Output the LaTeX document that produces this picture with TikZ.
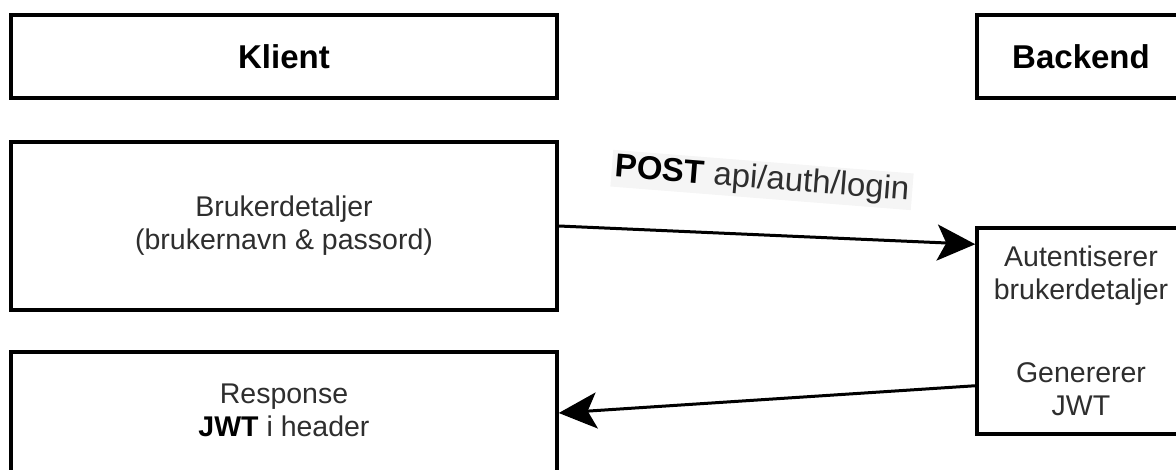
\documentclass[tikz,border=0pt]{standalone}
\usepackage{fontspec}
\setmainfont{Liberation Sans}
\usetikzlibrary{arrows.meta,calc}
\begin{document}
\begin{tikzpicture}[x=1pt,y=-1pt,
  box/.style={draw=black, line width=3.5pt, fill=white, inner sep=0pt, align=center},
  title/.style={font=\fontsize{33}{38}\selectfont\bfseries, text=black},
  body/.style={font=\fontsize{28.5}{33}\selectfont, text=black!82, align=center},
  conn/.style={line width=3pt, -{Stealth[length=38pt,width=36pt,inset=9pt]}}
]
\useasboundingbox (0,0) rectangle (1176,470);
\node[box, title, minimum width=546pt, minimum height=83pt] (klient) at (284,56.5) {Klient};
\node[box, body, minimum width=546pt, minimum height=168pt] (bruker) at (284,226) {Brukerdetaljer\\(brukernavn \& passord)};
\node[box, minimum width=546pt, minimum height=140pt] (resp) at (284,422) {};
\node[body] (resptext) at (284,410) {Response\\{\bfseries\color{black}JWT} i header};
\node[box, title, minimum width=208pt, minimum height=83pt] (backend) at (1081,56.5) {Backend};
\node[box, body, minimum width=208pt, minimum height=206pt] (auth) at (1081,331) {Autentiserer\\brukerdetaljer\\[50pt]Genererer\\JWT};
\draw[conn] (bruker.east) -- ([yshift=-18pt]auth.north west);
\draw[conn] ([yshift=50pt]auth.south west) -- ([yshift=9pt]resp.east);
\node[fill=black!4, inner sep=3pt, rotate=-4.5, font=\fontsize{33}{38}\selectfont, text=black!82] (lbl) at (762,180) {{\bfseries\color{black}POST} api/auth/login};
\end{tikzpicture}
\end{document}
